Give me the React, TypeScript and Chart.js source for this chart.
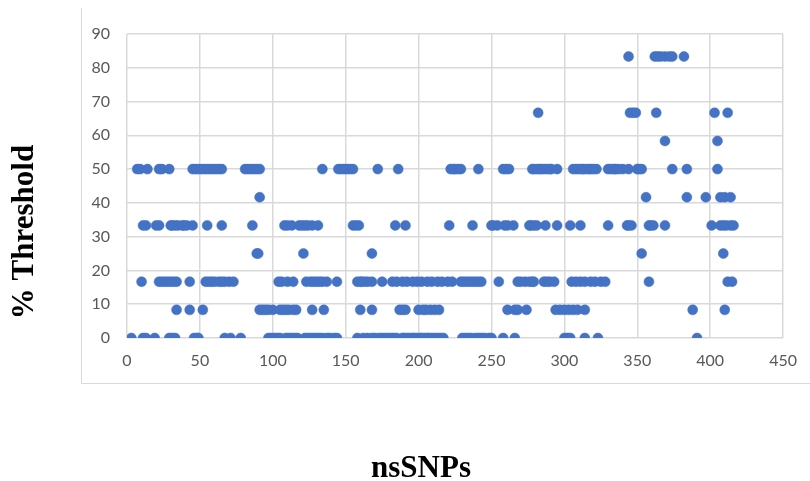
import React, { useEffect, useRef } from "react";
import { Chart, registerables } from "chart.js";

Chart.register(...registerables);

// Threshold levels (%) and the nsSNP positions plotted at each level
const levels = [0, 8.33, 16.67, 25, 33.33, 41.67, 50, 58.33, 66.67, 83.33];

const snpsAt0 = [
  3, 11, 13, 19, 29, 31, 33, 46, 48, 49, 67, 71, 78, 97, 99, 101, 103, 105,
  109, 111, 113, 115, 117, 122, 124, 126, 128, 130, 132, 134, 137, 139, 142,
  144, 158, 162, 165, 168, 170, 173, 175, 177, 179, 181, 183, 185, 189, 190,
  192, 194, 196, 197, 199, 201, 202, 204, 206, 207, 209, 211, 213, 215, 217,
  230, 232, 234, 236, 239, 241, 243, 245, 248, 250, 258, 266, 300, 302, 304,
  314, 323, 391,
];
const snpsAt8 = [
  34, 43, 52, 91, 93, 95, 97, 100, 105, 107, 109, 111, 114, 116, 127, 135,
  160, 168, 187, 189, 191, 200, 203, 205, 208, 211, 214, 261, 266, 268, 274,
  294, 297, 300, 303, 306, 309, 314, 388, 410,
];
const snpsAt17 = [
  10, 22, 24, 26, 28, 30, 32, 34, 43, 54, 56, 58, 60, 63, 65, 67, 70, 73,
  104, 106, 110, 114, 123, 126, 128, 130, 132, 134, 137, 144, 158, 160, 161,
  163, 165, 168, 175, 182, 185, 189, 192, 196, 199, 202, 206, 209, 213, 216,
  220, 223, 229, 231, 233, 235, 237, 239, 241, 243, 255, 268, 270, 273, 276,
  278, 279, 286, 288, 290, 293, 305, 308, 311, 314, 318, 321, 325, 328, 358,
  412, 415,
];
const snpsAt25 = [89, 90, 121, 168, 353, 409];
const snpsAt33 = [
  11, 13, 20, 22, 30, 31, 33, 35, 38, 39, 41, 45, 55, 65, 86, 108, 110, 113,
  118, 120, 122, 124, 127, 131, 155, 157, 159, 184, 191, 221, 237, 250, 251,
  254, 259, 261, 265, 276, 277, 279, 281, 287, 295, 304, 311, 330, 343, 344,
  346, 358, 359, 361, 369, 401, 407, 409, 411, 414, 416,
];
const snpsAt42 = [91, 356, 384, 397, 407, 410, 414];
const snpsAt50 = [
  7, 9, 14, 22, 24, 29, 45, 47, 49, 51, 53, 55, 57, 59, 61, 63, 65, 81, 83,
  85, 87, 89, 91, 134, 145, 147, 149, 151, 153, 155, 172, 186, 222, 224, 225,
  227, 229, 241, 258, 260, 262, 278, 279, 281, 283, 284, 286, 288, 290, 291,
  295, 306, 308, 310, 312, 313, 315, 317, 318, 320, 322, 330, 332, 334, 335,
  337, 340, 344, 350, 351, 353, 374, 384, 405,
];
const snpsAt58 = [369, 405];
const snpsAt67 = [282, 345, 347, 349, 363, 403, 412];
const snpsAt83 = [344, 362, 364, 366, 369, 372, 374, 382];

const snpsByLevel = [
  snpsAt0, snpsAt8, snpsAt17, snpsAt25, snpsAt33,
  snpsAt42, snpsAt50, snpsAt58, snpsAt67, snpsAt83,
];

const xTicks = [0, 50, 100, 150, 200, 250, 300, 350, 400, 450];
const yTicks = [0, 10, 20, 30, 40, 50, 60, 70, 80, 90];

const xTitle = "nsSNPs";
const yTitle = "% Threshold";

const framePlugin = {
  id: "frameAndTitles",
  beforeDraw(chart: any) {
    const ctx = chart.ctx;
    ctx.save();
    ctx.strokeStyle = "#d9d9d9";
    ctx.lineWidth = 1;
    ctx.beginPath();
    ctx.moveTo(81.5, 8);
    ctx.lineTo(81.5, 383.5);
    ctx.lineTo(810, 383.5);
    ctx.stroke();
    ctx.restore();
  },
  afterDraw(chart: any) {
    const ctx = chart.ctx;
    ctx.save();
    ctx.fillStyle = "#000000";
    ctx.font = "bold 31px 'Liberation Serif', 'Times New Roman', serif";
    ctx.textAlign = "center";
    ctx.textBaseline = "alphabetic";
    ctx.fillText(xTitle, 421, 477);
    ctx.translate(33, 232);
    ctx.rotate(-Math.PI / 2);
    ctx.fillText(yTitle, 0, 0);
    ctx.restore();
  },
};

export default function App() {
  const canvasRef = useRef<HTMLCanvasElement | null>(null);

  useEffect(() => {
    const canvas = canvasRef.current;
    if (!canvas) return;

    const points: { x: number; y: number }[] = [];
    snpsByLevel.forEach((arr, i) => {
      arr.forEach((x) => points.push({ x, y: levels[i] }));
    });

    const chart = new Chart(canvas, {
      type: "scatter",
      data: {
        datasets: [
          {
            label: "% Threshold",
            data: points,
            backgroundColor: "#4472C4",
            borderColor: "#4472C4",
            borderWidth: 0.5,
            pointRadius: 5,
            pointHoverRadius: 5,
          },
        ],
      },
      options: {
        responsive: false,
        animation: false,
        devicePixelRatio: 1,
        layout: { padding: { left: 0, top: 34, right: 24, bottom: 103 } },
        plugins: {
          legend: { display: false },
          tooltip: { enabled: false },
        },
        scales: {
          x: {
            type: "linear",
            min: 0,
            max: 450,
            afterBuildTicks: (scale: any) => {
              scale.ticks = xTicks.map((v) => ({ value: v }));
            },
            afterFit: (scale: any) => {
              scale.height = 40;
            },
            grid: { color: "#d9d9d9", lineWidth: 1.5, drawTicks: false },
            border: { display: false },
            ticks: {
              padding: 13,
              color: "#595959",
              font: { family: "Lato, 'Liberation Sans', sans-serif", size: 16 },
            },
          },
          y: {
            type: "linear",
            min: 0,
            max: 90,
            afterBuildTicks: (scale: any) => {
              scale.ticks = yTicks.map((v) => ({ value: v }));
            },
            afterFit: (scale: any) => {
              scale.width = 127;
            },
            grid: { color: "#d9d9d9", lineWidth: 1.5, drawTicks: false },
            border: { display: false },
            ticks: {
              padding: 17,
              color: "#595959",
              font: { family: "Lato, 'Liberation Sans', sans-serif", size: 16 },
            },
          },
        },
      },
      plugins: [framePlugin],
    });

    return () => chart.destroy();
  }, []);

  return (
    <div style={{ position: "absolute", left: 0, top: 0, width: 810, height: 481, background: "#ffffff" }}>
      <canvas ref={canvasRef} width={810} height={481} style={{ width: 810, height: 481, display: "block" }} />
    </div>
  );
}
